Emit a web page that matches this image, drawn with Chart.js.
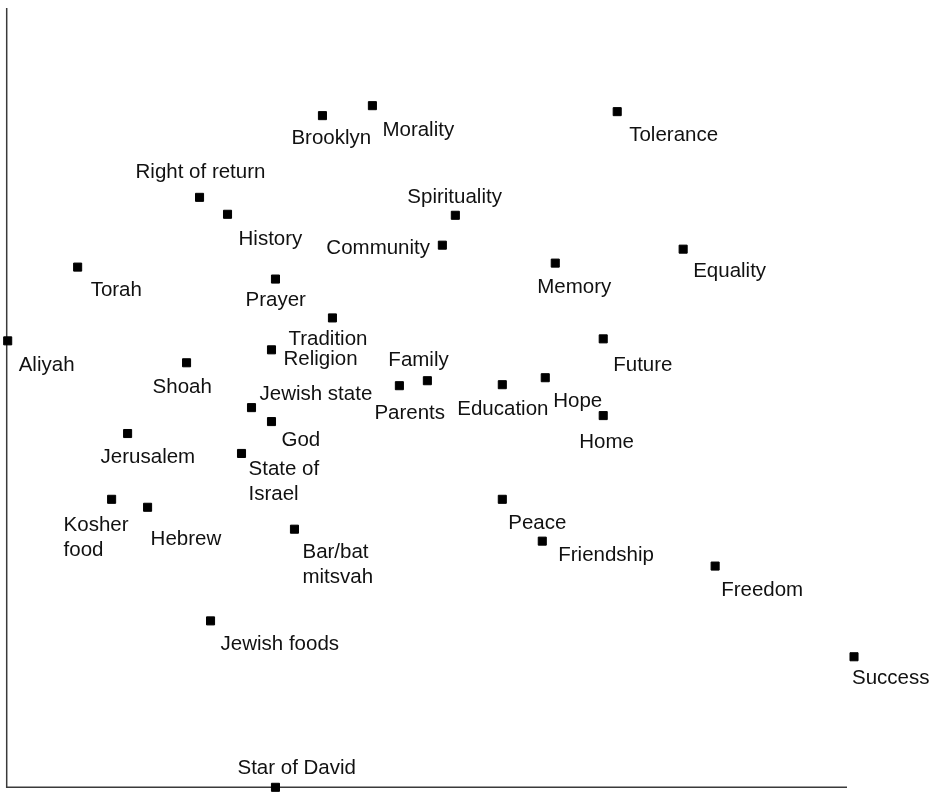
<!DOCTYPE html>
<html>
<head>
<meta charset="utf-8">
<script src="https://cdn.jsdelivr.net/npm/chart.js@4.4.1/dist/chart.umd.min.js"></script>
<style>
    html, body { margin: 0; padding: 0; background: #fff; }
    #wrap { width: 933px; height: 794px; }
</style>
</head>
<body>
<div id="wrap"><canvas id="chart-mds" width="933" height="794"></canvas></div>
<script>
// Concepts (multi-line labels split into arrays)
const concepts = [
    'Brooklyn', 'Morality', 'Tolerance', 'Right of return', 'History', 'Spirituality',
    'Community', 'Torah', 'Equality', 'Memory', 'Prayer', 'Tradition', 'Aliyah',
    'Future', 'Religion', 'Shoah', 'Family', 'Parents', 'Education', 'Hope', 'Home',
    'Jewish state', 'God', 'Jerusalem', ['State of', 'Israel'], ['Kosher', 'food'],
    'Hebrew', 'Peace', ['Bar/bat', 'mitsvah'], 'Friendship', 'Freedom',
    'Jewish foods', 'Success', 'Star of David'
];

// Dimension 1 / Dimension 2 coordinates
const dim1 = [
    316, 366, 611, 193, 221, 449,
    436, 71, 677, 549, 269, 326, 1,
    597, 265, 180, 421, 393, 496, 539, 597,
    245, 265, 121, 235, 105,
    141, 496, 288, 536, 709,
    204, 848, 269
];
const dim2 = [
    674, 684, 678, 592, 575, 574,
    544, 522, 540, 526, 510, 471, 448,
    450, 439, 426, 408, 403, 404, 411, 373,
    381, 367, 355, 335, 289,
    281, 289, 259, 247, 222,
    167, 131, 0
];

// where the drawn axes end (dimension units)
const axisEndX = 841;
const axisEndY = 782;

// label placement relative to its point: [dx to text start, dy to first baseline]
const labelOffsets = [
    [-31, 28], [10, 30], [12, 29], [-64, -19], [11, 31], [-48, -12],
    [-116, 9], [13, 29], [10, 28], [-18, 30], [-30, 27], [-44, 27], [11, 30],
    [10, 32], [12, 15], [-34, 30], [-39, -15], [-25, 33], [-45, 30], [8, 29], [-24, 32],
    [8, -8], [10, 24], [-27, 29], [7, 22], [-48, 32],
    [3, 38], [6, 30], [8, 29], [16, 20], [6, 30],
    [10, 29], [-2, 27], [-38, -13]
];

const points = dim1.map((x, i) => ({ x: x, y: dim2[i] }));

const axisLines = {
    id: 'axisLines',
    beforeDatasetsDraw(chart) {
        const { ctx } = chart;
        const sx = chart.scales.x, sy = chart.scales.y;
        const x0 = sx.getPixelForValue(0), y0 = sy.getPixelForValue(0);
        ctx.save();
        ctx.strokeStyle = '#3a3a3a';
        ctx.lineWidth = 1.5;
        ctx.beginPath();
        ctx.moveTo(x0, sy.getPixelForValue(axisEndY));
        ctx.lineTo(x0, y0);
        ctx.lineTo(sx.getPixelForValue(axisEndX), y0);
        ctx.stroke();
        ctx.restore();
    }
};

const pointLabels = {
    id: 'pointLabels',
    afterDatasetsDraw(chart) {
        const { ctx } = chart;
        const meta = chart.getDatasetMeta(0);
        ctx.save();
        ctx.fillStyle = '#111';
        ctx.font = '20.5px "Liberation Sans", Arial, sans-serif';
        ctx.textAlign = 'left';
        ctx.textBaseline = 'alphabetic';
        meta.data.forEach((el, i) => {
            const lines = [].concat(concepts[i]);
            const off = labelOffsets[i];
            lines.forEach((line, j) => {
                ctx.fillText(line, el.x + off[0], el.y + off[1] + j * 25);
            });
        });
        ctx.restore();
    }
};

const ctx = document.getElementById('chart-mds').getContext('2d');

new Chart(ctx, {
    type: 'scatter',
    data: {
        datasets: [{
            label: 'Concepts',
            data: points,
            pointStyle: 'rect',
            pointRadius: 5.7,
            pointHoverRadius: 5.7,
            backgroundColor: '#000',
            borderColor: '#000',
            borderWidth: 1,
            clip: false
        }]
    },
    options: {
        responsive: false,
        animation: false,
        layout: { padding: { left: 6, top: 8, right: 60, bottom: 4 } },
        plugins: {
            legend: { display: false },
            tooltip: { enabled: false }
        },
        scales: {
            x: { type: 'linear', min: 0, max: 867, display: false },
            y: { type: 'linear', min: 0, max: 782, display: false }
        }
    },
    plugins: [axisLines, pointLabels]
});
</script>
</body>
</html>
